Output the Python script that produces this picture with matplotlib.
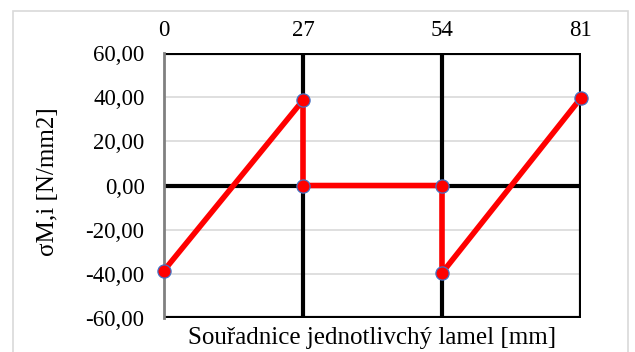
import matplotlib
matplotlib.use("Agg")
import matplotlib.pyplot as plt
from matplotlib.patches import Rectangle

plt.rcParams['font.family'] = ['Liberation Serif', 'DejaVu Serif']

# souřadnice lamel a napětí
x = [0, 27, 27, 54, 54, 81]
sigma = [-38.5, 38.6, 0.0, 0.0, -39.6, 39.7]

x_ticks = [0, 27, 54, 81]
y_ticks = [-60, -40, -20, 0, 20, 40, 60]

W, H = 635, 352
fig = plt.figure(figsize=(W / 100, H / 100), dpi=100)
ax = fig.add_axes([164 / W, 1 - 318 / H, 417 / W, 265 / H])

# rámeček grafu
fig.patches.append(Rectangle((13 / W, -0.01), 615 / W, 1 - 11 / H + 0.01,
                             transform=fig.transFigure, fill=False,
                             edgecolor='#d9d9d9', linewidth=1.2))

ax.set_xlim(0, 81)
ax.set_ylim(-60, 60)

for y in y_ticks:
    ax.axhline(y, color='#d9d9d9', linewidth=1.2, zorder=1)

# černé čáry
ax.axhline(0, color='black', linewidth=3, zorder=2)
ax.axhline(60, color='black', linewidth=3, zorder=2)
ax.axhline(-60, color='black', linewidth=3, zorder=2)
for xv in x_ticks[1:]:
    ax.axvline(xv, color='black', linewidth=3, zorder=2)

ax.plot(x, sigma, color='#ff0000', linewidth=4, marker='o', markersize=9.5,
        markerfacecolor='#ff0000', markeredgecolor='#4472c4', markeredgewidth=0.9,
        zorder=3, clip_on=False)

for s in ['top', 'right', 'bottom']:
    ax.spines[s].set_visible(False)
ax.spines['left'].set_color('#808080')
ax.spines['left'].set_linewidth(2)

ax.xaxis.tick_top()
ax.set_xticks(x_ticks)
ax.set_xticklabels([str(v) for v in x_ticks])
ax.set_yticks(y_ticks)
ax.set_yticklabels([f"{v:.2f}".replace('.', ',') for v in y_ticks])
ax.tick_params(length=0, labelsize=16.5, pad=14)
ax.tick_params(axis='x', pad=9)

fig.text(372 / W, 1 - 338 / H, "Souřadnice jednotlivchý lamel [mm]",
         fontsize=18, ha='center', va='center')
fig.text(48 / W, 1 - 182 / H, "σM,i [N/mm2]", fontsize=18,
         rotation=90, ha='center', va='center')

fig.savefig("out.png", dpi=100)
